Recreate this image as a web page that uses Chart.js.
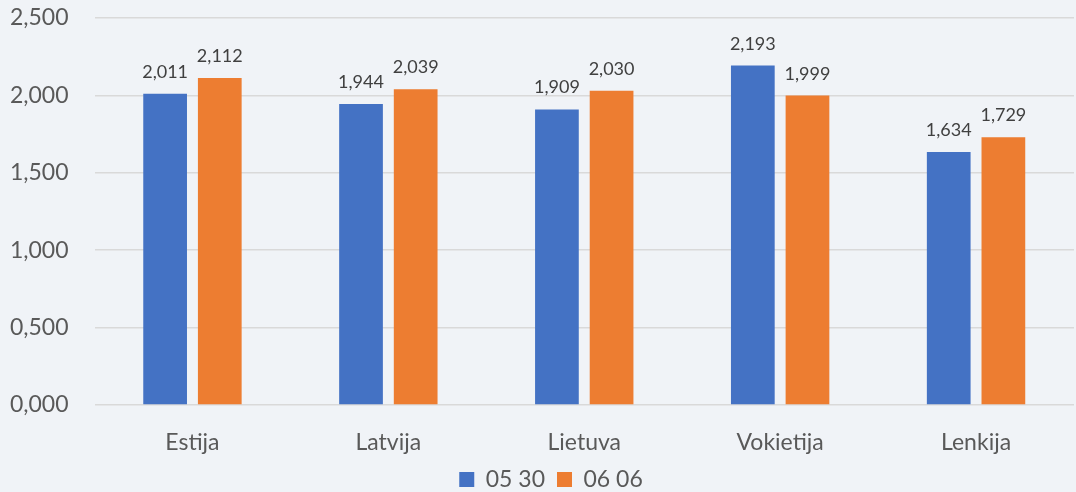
<!DOCTYPE html>
<html>
<head>
<meta charset="utf-8">
<script src="https://cdn.jsdelivr.net/npm/chart.js@4/dist/chart.umd.min.js"></script>
<style>
  html, body { margin: 0; padding: 0; background: #F0F3F7; }
  #wrap { width: 1076px; height: 492px; }
</style>
</head>
<body>
<div id="wrap"><canvas id="chart"></canvas></div>
<script>
// Chart data
const countries = ['Estija', 'Latvija', 'Lietuva', 'Vokietija', 'Lenkija'];
const seriesNames = ['05 30', '06 06'];
const values0530 = [2.011, 1.944, 1.909, 2.193, 1.634];
const values0606 = [2.112, 2.039, 2.030, 1.999, 1.729];
const yMin = 0, yMax = 2.5, yStep = 0.5;

const FONT = 'Lato';

// 2.011 -> "2,011"
function fmt(v) {
    return v.toFixed(3).replace('.', ',');
}

// Draw the value above each bar
const valueLabels = {
    id: 'valueLabels',
    afterDatasetsDraw(chart) {
        const ctx = chart.ctx;
        ctx.save();
        ctx.font = '18px ' + FONT;
        ctx.fillStyle = '#404040';
        ctx.textAlign = 'center';
        ctx.textBaseline = 'alphabetic';
        chart.data.datasets.forEach((ds, i) => {
            chart.getDatasetMeta(i).data.forEach((bar, j) => {
                ctx.fillText(fmt(ds.data[j]), bar.x, bar.y - 16);
            });
        });
        ctx.restore();
    }
};

// Nudge the legend a little to the right, like in the original
const legendShift = {
    id: 'legendShift',
    afterLayout(chart) {
        if (chart.legend) {
            chart.legend.left += 14;
            chart.legend.right += 14;
        }
    }
};

new Chart(document.getElementById('chart'), {
    type: 'bar',
    data: {
        labels: countries,
        datasets: [
            { label: seriesNames[0], data: values0530, backgroundColor: '#4472C4' },
            { label: seriesNames[1], data: values0606, backgroundColor: '#ED7D31' }
        ]
    },
    options: {
        responsive: true,
        maintainAspectRatio: false,
        animation: false,
        categoryPercentage: 0.558,
        barPercentage: 0.8,
        layout: { padding: { left: 0, right: 2, top: 18, bottom: 0 } },
        plugins: {
            tooltip: { enabled: false },
            legend: {
                position: 'bottom',
                maxHeight: 36,
                labels: {
                    boxWidth: 15,
                    boxHeight: 15,
                    padding: 12,
                    color: '#595959',
                    font: { family: FONT, size: 23 }
                }
            }
        },
        scales: {
            x: {
                grid: { display: false },
                border: { display: false },
                ticks: { color: '#595959', padding: 16, font: { family: FONT, size: 23 } },
                afterFit: s => { s.height = 51; s.paddingLeft = 0; s.paddingRight = 0; }
            },
            y: {
                min: yMin,
                max: yMax,
                grid: { color: '#D9D9D9', lineWidth: 1.5, drawTicks: false },
                border: { display: false },
                ticks: {
                    stepSize: yStep,
                    padding: 26,
                    color: '#595959',
                    font: { family: FONT, size: 23 },
                    callback: v => fmt(v)
                },
                afterFit: s => { s.width = 94.5; s.paddingTop = 0; s.paddingBottom = 0; }
            }
        }
    },
    plugins: [valueLabels, legendShift]
});
</script>
</body>
</html>
